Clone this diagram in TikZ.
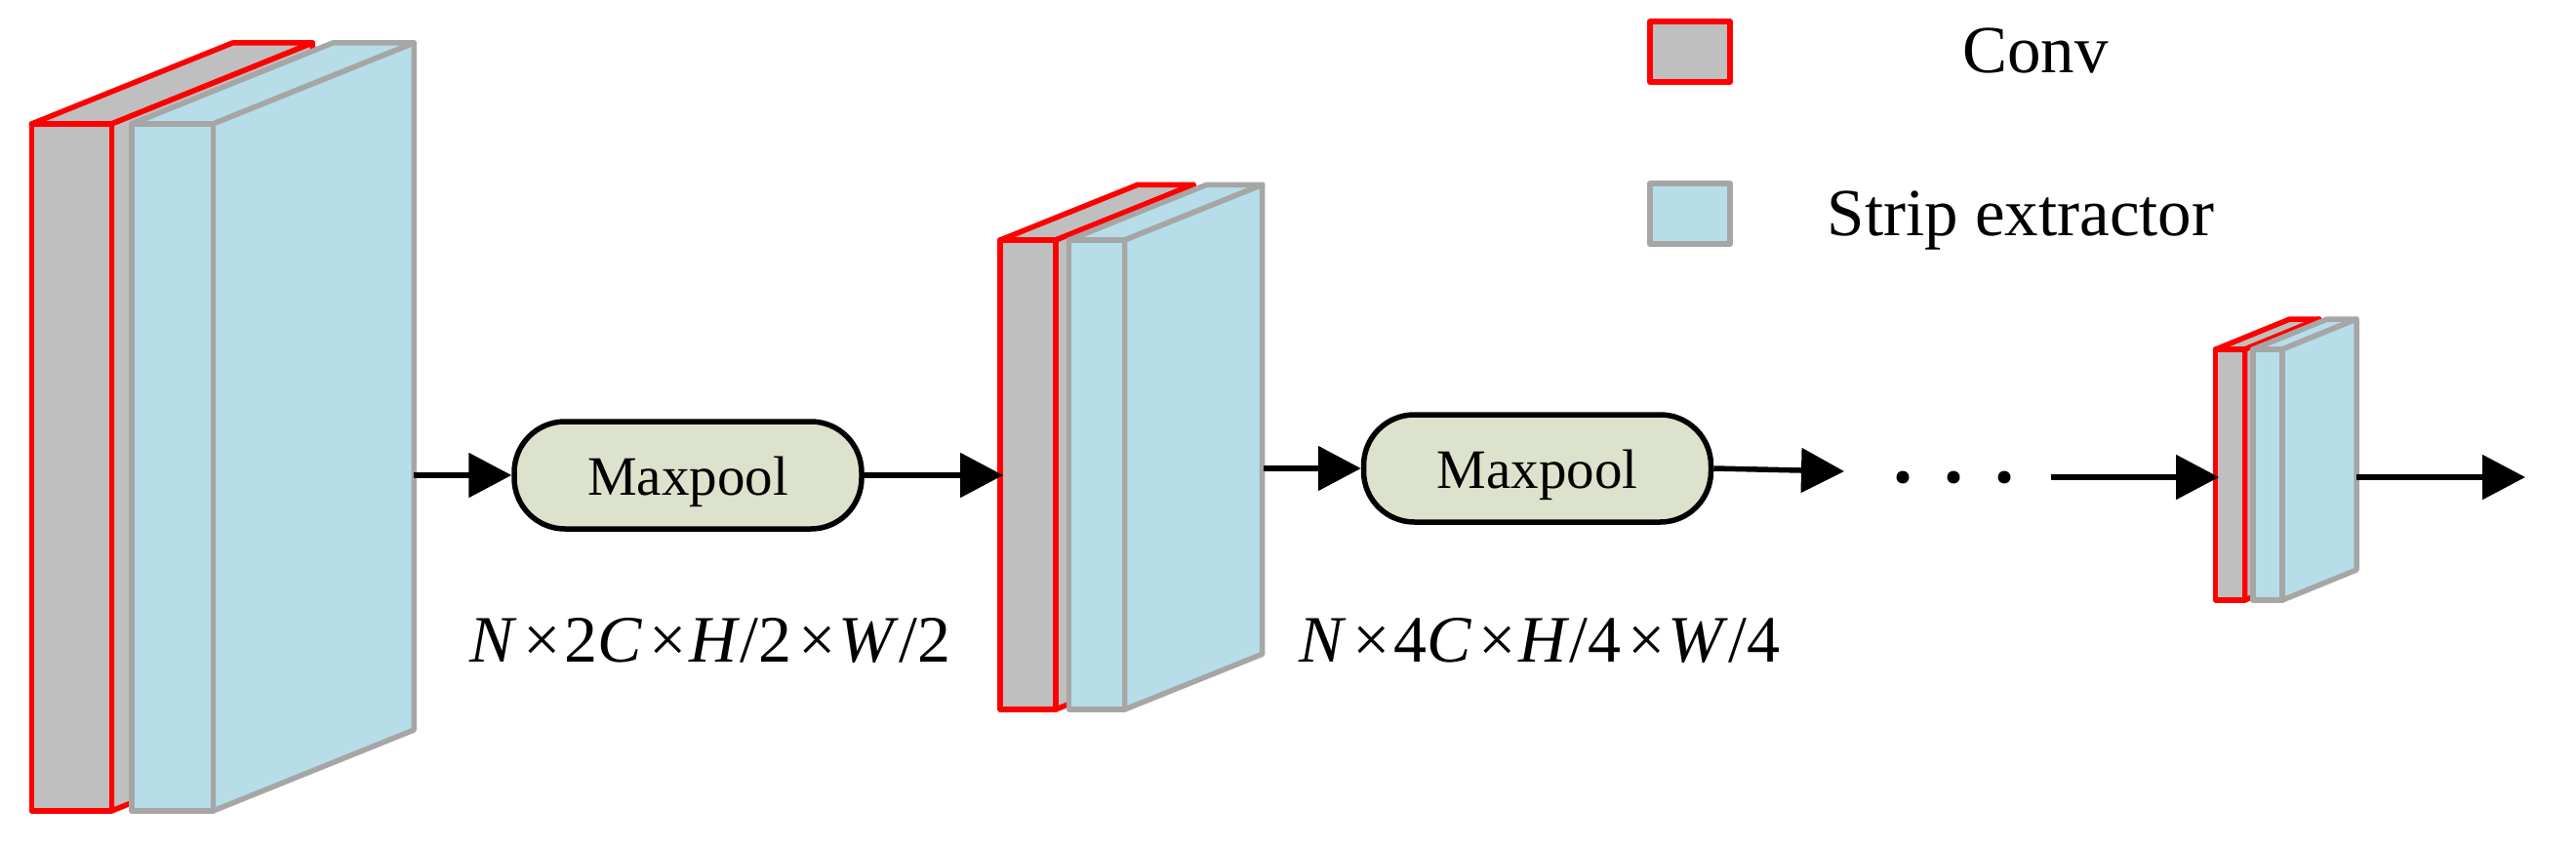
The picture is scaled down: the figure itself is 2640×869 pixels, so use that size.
\documentclass[tikz,border=0pt]{standalone}
\usepackage{fontspec}
\setmainfont{Liberation Serif}
\usetikzlibrary{arrows.meta}
\definecolor{convfill}{HTML}{BFBFBF}
\definecolor{convdraw}{HTML}{FF0000}
\definecolor{stripfill}{HTML}{B7DDE8}
\definecolor{stripdraw}{HTML}{A6A6A6}
\definecolor{poolfill}{HTML}{DCE2CB}
% #1 fill, #2 draw, #3 x, #4 w, #5 ytop, #6 ybot, #7 dx, #8 dy
\newcommand\slabbox[8]{%
  \filldraw[fill=#1, draw=#2, slabline] (#3,#5) -- ++(#7,-#8) -- ++(#4,0) -- (#3+#4,#5) -- cycle;
  \filldraw[fill=#1, draw=#2, slabline] (#3+#4,#5) -- ++(#7,-#8) -- (#3+#4+#7,#6-#8) -- (#3+#4,#6) -- cycle;
  \filldraw[fill=#1, draw=#2, slabline] (#3,#5) rectangle (#3+#4,#6);
}
\begin{document}
\begin{tikzpicture}[x=1pt, y=-1pt,
  slabline/.style={line width=5.5pt, line join=round},
  conn/.style={line width=5.5pt, -{Triangle[length=44pt,width=45pt]}},
  pool/.style={draw=black, line width=5.5pt, fill=poolfill, rounded corners=52pt,
    minimum width=356pt, minimum height=110pt, inner sep=0pt,
    text height=40pt, text depth=0pt, font=\fontsize{57pt}{60pt}\selectfont},
  lab/.style={inner sep=0pt, anchor=base, font=\fontsize{68pt}{72pt}\selectfont},
  leg/.style={inner sep=0pt, anchor=base, font=\fontsize{69pt}{72pt}\selectfont},
  dotmark/.style={circle, fill=black, inner sep=0pt, minimum size=13pt}]
\useasboundingbox (0,0) rectangle (2640,869);

% block 1
\slabbox{convfill}{convdraw}{32.3}{82}{127}{831}{206}{83}
\slabbox{stripfill}{stripdraw}{135}{83.3}{127}{831}{206}{83}
% block 2
\slabbox{convfill}{convdraw}{1025}{57}{246}{727}{141}{56.7}
\slabbox{stripfill}{stripdraw}{1095.7}{57}{246}{727}{141}{56.7}
% block 3
\slabbox{convfill}{convdraw}{2270.7}{30}{358}{615}{76}{31}
\slabbox{stripfill}{stripdraw}{2309}{30}{358}{615}{76}{31}

% pools
\node[pool] (mp1) at (705,487) {Maxpool};
\node[pool] (mp2) at (1575.5,480) {Maxpool};

% connector ends
\coordinate (b1out) at (424.3,487);
\coordinate (b2in) at (1028,487);
\coordinate (b2out) at (1295,480);
\coordinate (d1) at (1890,483);
\coordinate (d2) at (2102,489);
\coordinate (b3in) at (2274,489);
\coordinate (b3out) at (2415,489);
\coordinate (fin) at (2588,489);

\draw[conn] (b1out) -- (mp1.west);
\draw[conn] (mp1.east) -- (b2in);
\draw[conn] (b2out) -- (mp2.west);
\draw[conn] (mp2.east) -- (d1);
\draw[conn] (d2) -- (b3in);
\draw[conn] (b3out) -- (fin);

\node[dotmark] (dot1) at (1950,489) {};
\node[dotmark] (dot2) at (2002,489) {};
\node[dotmark] (dot3) at (2054,489) {};

% dimension labels
\node[lab] (dim1) at (728,678) {\textit{N}\kern7pt×\kern3pt 2\textit{C}\kern7pt×\kern3pt\textit{H}/2\kern7pt×\kern3pt\textit{W}/2};
\node[lab] (dim2) at (1578,678) {\textit{N}\kern7pt×\kern3pt 4\textit{C}\kern7pt×\kern3pt\textit{H}/4\kern7pt×\kern3pt\textit{W}/4};

% legend
\filldraw[fill=convfill, draw=convdraw, slabline] (1691,22) rectangle (1773,84);
\filldraw[fill=stripfill, draw=stripdraw, slabline] (1691,188) rectangle (1773,250);
\node[leg] (legconv) at (2086,75) {Conv};
\node[leg] (legstrip) at (2071,241) {Strip extractor};
\end{tikzpicture}
\end{document}
